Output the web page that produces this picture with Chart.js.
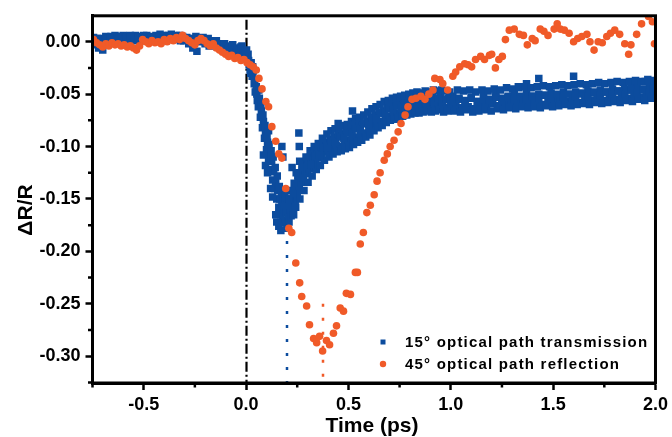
<!DOCTYPE html>
<html>
<head>
<meta charset="utf-8">
<script src="https://cdn.jsdelivr.net/npm/chart.js@4.4.1/dist/chart.umd.min.js"></script>
<style>
  html, body { margin: 0; padding: 0; background: #fff; }
  canvas { display: block; }
</style>
</head>
<body>
<canvas id="chart" width="672" height="437"></canvas>
<script>
// 15° optical path, transmission: delay (ps) and ΔR/R
const blueTime = [
  -0.75,-0.74,-0.73,-0.72,-0.71,-0.70,-0.69,-0.68,-0.67,-0.66,
  -0.65,-0.64,-0.63,-0.62,-0.61,-0.60,-0.59,-0.58,-0.57,-0.56,
  -0.55,-0.54,-0.53,-0.52,-0.51,-0.50,-0.49,-0.48,-0.47,-0.46,
  -0.45,-0.44,-0.43,-0.42,-0.41,-0.40,-0.39,-0.38,-0.37,-0.36,
  -0.35,-0.34,-0.33,-0.32,-0.31,-0.30,-0.29,-0.28,-0.27,-0.26,
  -0.25,-0.24,-0.23,-0.22,-0.21,-0.20,-0.19,-0.18,-0.17,-0.16,
  -0.15,-0.14,-0.13,-0.12,-0.11,-0.10,-0.09,-0.08,-0.07,-0.06,
  -0.05,-0.04,-0.03,-0.02,-0.01,0.000,0.005,0.010,0.015,0.020,
  0.025,0.030,0.035,0.040,0.045,0.050,0.055,0.060,0.065,0.070,
  0.075,0.080,0.085,0.090,0.095,0.100,0.105,0.110,0.115,0.120,
  0.125,0.130,0.135,0.140,0.145,0.150,0.155,0.160,0.165,0.170,
  0.175,0.180,0.185,0.190,0.195,0.200,0.205,0.210,0.215,0.220,
  0.225,0.230,0.235,0.240,0.245,0.250,0.255,0.260,0.265,0.270,
  0.275,0.280,0.285,0.290,0.295,0.300,0.305,0.310,0.315,0.320,
  0.325,0.330,0.335,0.340,0.345,0.350,0.355,0.360,0.365,0.370,
  0.375,0.380,0.390,0.400,0.410,0.420,0.430,0.440,0.450,0.460,
  0.470,0.480,0.490,0.500,0.510,0.520,0.530,0.540,0.550,0.560,
  0.570,0.580,0.590,0.600,0.610,0.620,0.630,0.640,0.650,0.660,
  0.670,0.680,0.690,0.700,0.710,0.720,0.730,0.740,0.750,0.760,
  0.770,0.780,0.790,0.800,0.810,0.820,0.830,0.840,0.850,0.860,
  0.870,0.880,0.890,0.900,0.910,0.920,0.930,0.940,0.950,0.960,
  0.970,0.980,0.990,1.000,1.010,1.025,1.040,1.055,1.070,1.085,
  1.100,1.115,1.130,1.145,1.160,1.175,1.190,1.205,1.220,1.235,
  1.250,1.265,1.280,1.295,1.310,1.325,1.340,1.355,1.370,1.385,
  1.400,1.415,1.430,1.445,1.460,1.475,1.490,1.505,1.520,1.535,
  1.550,1.565,1.580,1.595,1.610,1.625,1.640,1.655,1.670,1.685,
  1.700,1.715,1.730,1.745,1.760,1.775,1.790,1.805,1.820,1.835,
  1.850,1.865,1.880,1.895,1.910,1.925,1.940,1.955,1.970,1.985,
  2.000,0.175,0.180,0.225,0.258,0.260,0.262,0.270,0.450,0.520,
  1.330,1.370,1.430,1.600,1.880,1.950,
  -0.745,-0.725,-0.705,-0.685,-0.665,-0.645,-0.625,-0.605,-0.585,-0.565,
  -0.545,-0.525,-0.505,-0.485,-0.465,-0.445,-0.425,-0.405,-0.385,-0.365,
  -0.345,-0.325,-0.305,-0.285,-0.265,-0.245,-0.225,-0.205,-0.185,-0.165,
  -0.145,-0.125,-0.105,-0.085,-0.065,-0.045,-0.025,-0.005,
  0.0025,0.0125,0.0225,0.0325,0.0425,0.0525,0.0625,0.0725,0.0825,0.0925,
  0.1025,0.1125,0.1225,0.1325,0.1425,0.1525,0.1625,0.1725,0.1825,0.1925,
  0.2025,0.2125,0.2225,0.2325,0.2425,
  0.253,0.263,0.273,0.283,0.293,0.303,0.313,0.323,0.333,0.343,
  0.353,0.363,0.373,0.383,0.395,0.405,0.415,0.425,0.435,0.445,
  0.455,0.465,0.475,0.485,0.495,0.505,0.515,0.525,0.535,0.545,
  0.555,0.565,0.575,0.585,0.595,0.605,0.615,0.625,0.635,0.645,
  0.655,0.665,0.675,0.685,0.695,0.705,0.715,0.725,0.735,0.745,
  0.755,0.765,0.775,0.785,0.795,0.805,0.815,0.825,0.835,0.845,
  0.855,0.865,0.875,0.885,0.895,0.905,0.915,0.925,0.935,0.945,
  0.955,0.965,0.975,0.985,0.995,
  1.0175,1.0325,1.0475,1.0625,1.0775,1.0925,1.1075,1.1225,1.1375,1.1525,
  1.1675,1.1825,1.1975,1.2125,1.2275,1.2425,1.2575,1.2725,1.2875,1.3025,
  1.3175,1.3325,1.3475,1.3625,1.3775,1.3925,1.4075,1.4225,1.4375,1.4525,
  1.4675,1.4825,1.4975,1.5125,1.5275,1.5425,1.5575,1.5725,1.5875,1.6025,
  1.6175,1.6325,1.6475,1.6625,1.6775,1.6925,1.7075,1.7225,1.7375,1.7525,
  1.7675,1.7825,1.7975,1.8125,1.8275,1.8425,1.8575,1.8725,1.8875,1.9025,
  1.9175,1.9325,1.9475,1.9625,1.9775,1.9925,
  0.258,0.278,0.298,0.318,0.338,0.358,0.378,0.398,0.418,0.438,
  0.458,0.478,0.498,0.518,0.538,0.558,0.578,0.598,0.618,0.638,
  0.658,0.678,0.698,0.718,0.738,0.758,0.778,0.798,0.818,0.838,
  0.858,0.878,0.898,0.918,0.938,0.958,0.978,0.998,
  1.01,1.04,1.07,1.10,1.13,1.16,1.19,1.22,1.25,1.28,
  1.31,1.34,1.37,1.40,1.43,1.46,1.49,1.52,1.55,1.58,
  1.61,1.64,1.67,1.70,1.73,1.76,1.79,1.82,1.85,1.88,
  1.91,1.94,1.97,1.99,
  0.085,0.095,0.105,0.110,0.120,0.130,0.145,0.150,0.160,0.170,
  0.190,0.210,0.230,0.235,0.245
];
const blueDR = [
  0.002,-0.003,0.001,-0.006,0.003,-0.008,0.002,0.004,0.001,0.005,
  0.002,0.006,0.001,0.004,0.003,0.006,0.002,0.005,0.000,0.004,
  0.002,0.006,0.003,0.005,0.001,0.006,0.003,0.004,0.001,0.005,
  0.003,0.006,0.002,0.007,0.003,0.005,0.001,0.006,0.003,0.005,
  0.002,0.006,0.004,0.001,0.005,0.002,0.004,-0.002,0.003,-0.006,
  0.002,-0.009,0.003,0.000,0.004,-0.002,0.002,-0.004,0.001,-0.003,
  0.000,-0.005,-0.002,-0.006,-0.003,-0.007,-0.004,-0.009,-0.005,-0.010,
  -0.006,-0.011,-0.008,-0.004,-0.012,-0.009,-0.016,-0.012,-0.022,-0.027,
  -0.020,-0.033,-0.028,-0.040,-0.048,-0.043,-0.056,-0.062,-0.054,-0.072,
  -0.066,-0.082,-0.076,-0.092,-0.086,-0.103,-0.096,-0.112,-0.106,-0.122,
  -0.114,-0.132,-0.124,-0.140,-0.133,-0.150,-0.142,-0.158,-0.150,-0.165,
  -0.155,-0.170,-0.160,-0.173,-0.163,-0.178,-0.168,-0.172,-0.160,-0.166,
  -0.152,-0.158,-0.146,-0.152,-0.140,-0.146,-0.133,-0.139,-0.127,-0.134,
  -0.122,-0.130,-0.118,-0.126,-0.116,-0.124,-0.113,-0.121,-0.110,-0.118,
  -0.108,-0.116,-0.106,-0.113,-0.103,-0.111,-0.101,-0.109,-0.099,-0.107,
  -0.098,-0.105,-0.096,-0.104,-0.093,-0.101,-0.091,-0.099,-0.089,-0.100,
  -0.088,-0.096,-0.085,-0.094,-0.084,-0.092,-0.082,-0.091,-0.080,-0.088,
  -0.078,-0.087,-0.076,-0.084,-0.072,-0.080,-0.070,-0.078,-0.068,-0.076,
  -0.066,-0.074,-0.064,-0.071,-0.062,-0.070,-0.061,-0.068,-0.060,-0.067,
  -0.058,-0.066,-0.057,-0.065,-0.056,-0.064,-0.055,-0.063,-0.056,-0.062,
  -0.054,-0.063,-0.055,-0.061,-0.053,-0.064,-0.056,-0.060,-0.052,-0.062,
  -0.055,-0.063,-0.054,-0.060,-0.052,-0.061,-0.054,-0.063,-0.056,-0.062,
  -0.053,-0.064,-0.057,-0.060,-0.052,-0.062,-0.055,-0.059,-0.051,-0.061,
  -0.054,-0.060,-0.052,-0.058,-0.050,-0.060,-0.053,-0.058,-0.049,-0.059,
  -0.052,-0.057,-0.050,-0.060,-0.051,-0.057,-0.049,-0.058,-0.051,-0.056,
  -0.048,-0.057,-0.050,-0.055,-0.048,-0.058,-0.050,-0.055,-0.047,-0.056,
  -0.049,-0.054,-0.046,-0.056,-0.048,-0.053,-0.045,-0.055,-0.047,-0.053,
  -0.045,-0.054,-0.046,-0.051,-0.044,-0.053,-0.045,-0.050,-0.043,-0.051,
  -0.044,-0.100,-0.110,-0.120,-0.087,-0.100,-0.114,-0.130,-0.078,-0.066,
  -0.043,-0.040,-0.035,-0.033,-0.040,-0.038,
  0.004,0.003,-0.002,0.005,0.003,0.002,0.005,0.001,0.004,0.006,
  0.001,0.004,0.002,0.006,0.003,0.001,0.004,0.006,0.003,0.007,
  0.004,0.006,0.001,0.003,0.001,0.005,0.002,0.001,0.003,-0.001,
  0.001,-0.004,-0.002,-0.006,-0.003,-0.008,-0.005,-0.010,
  -0.008,-0.018,-0.030,-0.024,-0.036,-0.050,-0.046,-0.060,-0.070,-0.080,
  -0.090,-0.098,-0.104,-0.110,-0.120,-0.128,-0.138,-0.145,-0.150,-0.150,
  -0.156,-0.150,-0.142,-0.165,-0.158,
  -0.128,-0.150,-0.120,-0.142,-0.110,-0.134,-0.104,-0.128,-0.100,-0.122,
  -0.097,-0.118,-0.092,-0.113,-0.088,-0.110,-0.085,-0.107,-0.083,-0.105,
  -0.082,-0.104,-0.080,-0.102,-0.079,-0.101,-0.076,-0.098,-0.073,-0.096,
  -0.072,-0.094,-0.070,-0.091,-0.067,-0.089,-0.064,-0.085,-0.062,-0.082,
  -0.060,-0.080,-0.057,-0.077,-0.056,-0.075,-0.054,-0.074,-0.053,-0.073,
  -0.052,-0.071,-0.051,-0.070,-0.050,-0.069,-0.049,-0.068,-0.048,-0.068,
  -0.049,-0.067,-0.047,-0.066,-0.048,-0.067,-0.046,-0.066,-0.047,-0.065,
  -0.046,-0.067,-0.047,-0.066,-0.048,
  -0.066,-0.046,-0.067,-0.047,-0.065,-0.046,-0.067,-0.048,-0.066,-0.046,
  -0.065,-0.047,-0.066,-0.045,-0.064,-0.046,-0.065,-0.044,-0.063,-0.045,
  -0.064,-0.044,-0.062,-0.043,-0.063,-0.044,-0.062,-0.043,-0.063,-0.042,
  -0.061,-0.043,-0.062,-0.042,-0.061,-0.041,-0.060,-0.042,-0.061,-0.041,
  -0.060,-0.040,-0.059,-0.041,-0.060,-0.040,-0.058,-0.039,-0.059,-0.040,
  -0.058,-0.039,-0.057,-0.038,-0.058,-0.039,-0.056,-0.038,-0.057,-0.037,
  -0.055,-0.038,-0.056,-0.036,-0.054,-0.037,
  -0.134,-0.130,-0.119,-0.117,-0.109,-0.108,-0.101,-0.101,-0.095,-0.096,
  -0.091,-0.092,-0.087,-0.088,-0.083,-0.084,-0.078,-0.079,-0.073,-0.073,
  -0.068,-0.068,-0.063,-0.065,-0.061,-0.063,-0.059,-0.061,-0.057,-0.059,
  -0.056,-0.058,-0.055,-0.057,-0.054,-0.057,-0.055,-0.057,
  -0.057,-0.055,-0.058,-0.054,-0.057,-0.055,-0.056,-0.053,-0.056,-0.053,
  -0.055,-0.052,-0.055,-0.052,-0.054,-0.051,-0.054,-0.050,-0.053,-0.050,
  -0.052,-0.049,-0.052,-0.048,-0.051,-0.048,-0.050,-0.047,-0.050,-0.046,
  -0.049,-0.046,-0.048,-0.045,
  -0.108,-0.118,-0.125,-0.085,-0.140,-0.148,-0.165,-0.172,-0.176,-0.180,
  -0.145,-0.150,-0.145,-0.135,-0.125
];

// 45° optical path, reflection: delay (ps) and ΔR/R
const orangeTime = [
  -0.745,-0.730,-0.715,-0.700,-0.685,-0.670,-0.655,-0.640,-0.625,-0.610,
  -0.595,-0.580,-0.565,-0.550,-0.535,-0.520,-0.505,-0.490,-0.475,-0.460,
  -0.445,-0.430,-0.415,-0.400,-0.385,-0.370,-0.355,-0.340,-0.325,-0.310,
  -0.295,-0.280,-0.265,-0.250,-0.235,-0.220,-0.205,-0.190,-0.175,-0.160,
  -0.145,-0.130,-0.115,-0.100,-0.085,-0.070,-0.055,-0.040,-0.025,-0.010,
  0.005,0.020,0.035,0.050,0.063,0.078,0.097,0.110,0.126,0.145,
  0.160,0.175,0.194,0.209,0.223,0.243,0.262,0.272,0.296,0.310,
  0.330,0.345,0.359,0.374,0.393,0.408,0.427,0.442,0.460,0.476,
  0.490,0.510,0.534,0.544,0.558,0.573,0.590,0.607,0.626,0.640,
  0.655,0.675,0.690,0.704,0.723,0.743,0.757,0.777,0.791,0.811,
  0.830,0.854,0.874,0.893,0.913,0.922,0.947,0.961,0.985,1.010,
  1.024,1.044,1.068,1.085,1.102,1.121,1.146,1.165,1.189,1.200,
  1.218,1.235,1.252,1.267,1.286,1.310,1.335,1.355,1.374,1.398,
  1.412,1.437,1.455,1.475,1.505,1.520,1.535,1.555,1.578,1.600,
  1.620,1.640,1.665,1.680,1.700,1.720,1.740,1.762,1.780,1.801,
  1.825,1.850,1.869,1.880,1.908,1.932,1.966,1.985,1.995
];
const orangeDR = [
  0.002,-0.001,-0.003,-0.005,-0.002,-0.004,-0.001,-0.003,-0.002,-0.004,
  -0.003,-0.005,-0.004,-0.006,-0.008,-0.004,0.002,0.000,-0.002,0.001,
  -0.001,0.000,-0.002,0.002,0.000,0.003,0.001,0.004,0.002,0.006,
  0.003,0.001,-0.001,-0.003,0.001,0.003,0.001,-0.002,-0.004,-0.002,
  -0.006,-0.008,-0.010,-0.012,-0.014,-0.013,-0.016,-0.015,-0.018,-0.017,
  -0.020,-0.022,-0.024,-0.027,-0.035,-0.045,-0.057,-0.062,-0.081,-0.095,
  -0.107,-0.111,-0.140,-0.178,-0.182,-0.211,-0.230,-0.243,-0.252,-0.270,
  -0.283,-0.287,-0.281,-0.295,-0.285,-0.289,-0.278,-0.271,-0.254,-0.257,
  -0.240,-0.241,-0.220,-0.220,-0.193,-0.182,-0.163,-0.156,-0.146,-0.133,
  -0.125,-0.113,-0.107,-0.100,-0.094,-0.086,-0.078,-0.070,-0.062,-0.055,
  -0.054,-0.052,-0.055,-0.050,-0.046,-0.035,-0.036,-0.040,-0.046,-0.033,
  -0.029,-0.024,-0.021,-0.022,-0.024,-0.017,-0.014,-0.017,-0.013,-0.012,
  -0.025,-0.017,-0.014,0.002,0.011,0.012,0.007,0.006,-0.003,0.003,
  0.001,0.012,0.010,0.006,0.012,0.017,0.012,0.011,0.008,0.000,
  0.003,0.005,0.007,0.000,-0.008,0.000,-0.001,0.005,0.008,0.011,
  0.007,-0.002,-0.012,-0.003,0.007,0.017,0.024,0.019,-0.002
];

const seriesNames = ['15° optical path transmission', '45° optical path reflection'];
const seriesColors = ['#0c4c9e', '#f05a28'];
// time zero and the two signal minima (ps), with the ΔR/R where each marker starts
const zeroDelay = 0;
const peakTimes = [0.2, 0.375];
const peakMarkerTop = [-0.19, -0.25];
const xTicks = [-0.5, 0.0, 0.5, 1.0, 1.5, 2.0];
const yTicks = [0.00, -0.05, -0.10, -0.15, -0.20, -0.25, -0.30];
const xMinor = [-0.75, -0.25, 0.25, 0.75, 1.25, 1.75];
const yMinor = [-0.025, -0.075, -0.125, -0.175, -0.225, -0.275, -0.325];

const toPoints = (t, v) => t.map((tt, i) => ({ x: tt, y: v[i] }));

const FONT = '"Liberation Sans", Arial, sans-serif';

const decor = {
  id: 'decor',
  beforeDatasetsDraw(chart) {
    const { ctx, chartArea: a, scales: { x, y } } = chart;
    ctx.save();
    // dash-dot line at zero delay
    ctx.strokeStyle = '#000';
    ctx.lineWidth = 2.2;
    ctx.setLineDash([10, 3, 2, 3]);
    const x0 = Math.round(x.getPixelForValue(zeroDelay)) + 0.5;
    ctx.beginPath();
    ctx.moveTo(x0, a.top + 4);
    ctx.lineTo(x0, a.bottom);
    ctx.stroke();
    // dotted lines at each minimum
    ctx.lineWidth = 2.5;
    ctx.setLineDash([3, 11]);
    peakTimes.forEach((t, i) => {
      const px = Math.round(x.getPixelForValue(t));
      ctx.strokeStyle = seriesColors[i];
      ctx.beginPath();
      ctx.moveTo(px, y.getPixelForValue(peakMarkerTop[i]));
      ctx.lineTo(px, a.bottom);
      ctx.stroke();
    });
    ctx.restore();
  },
  afterDraw(chart) {
    const { ctx, chartArea: a, scales: { x, y } } = chart;
    ctx.save();
    ctx.setLineDash([]);
    ctx.strokeStyle = '#000';
    // frame
    ctx.lineWidth = 3;
    ctx.strokeRect(a.left, a.top, a.right - a.left, a.bottom - a.top);
    // minor ticks
    ctx.lineWidth = 2.5;
    ctx.beginPath();
    xMinor.forEach(v => {
      const px = x.getPixelForValue(v);
      ctx.moveTo(px, a.bottom);
      ctx.lineTo(px, a.bottom + 4.5);
    });
    yMinor.forEach(v => {
      const py = y.getPixelForValue(v);
      ctx.moveTo(a.left, py);
      ctx.lineTo(a.left - 4.5, py);
    });
    ctx.stroke();

    // axis titles
    ctx.fillStyle = '#000';
    ctx.font = 'bold 21px ' + FONT;
    ctx.textAlign = 'center';
    ctx.textBaseline = 'middle';
    ctx.fillText('Time (ps)', 372, 426);
    ctx.save();
    ctx.translate(26, 210);
    ctx.rotate(-Math.PI / 2);
    ctx.fillText('ΔR/R', 0, 0);
    ctx.restore();

    // legend
    const lx = 383, ly = [342, 364];
    ctx.fillStyle = seriesColors[0];
    ctx.fillRect(lx - 2.5, ly[0] - 2.5, 5, 5);
    ctx.fillStyle = seriesColors[1];
    ctx.beginPath();
    ctx.arc(lx, ly[1], 3.2, 0, Math.PI * 2);
    ctx.fill();
    ctx.fillStyle = '#000';
    ctx.font = 'bold 15px ' + FONT;
    ctx.textAlign = 'left';
    ctx.textBaseline = 'middle';
    ctx.letterSpacing = '1.2px';
    seriesNames.forEach((n, i) => ctx.fillText(n, 405, ly[i] + 1));
    ctx.restore();
  }
};

new Chart(document.getElementById('chart'), {
  type: 'scatter',
  data: {
    datasets: [
      {
        label: seriesNames[0],
        data: toPoints(blueTime, blueDR),
        pointStyle: 'rect',
        pointRadius: 5.3,
        pointBorderWidth: 0,
        backgroundColor: seriesColors[0],
        borderColor: seriesColors[0],
        order: 1
      },
      {
        label: seriesNames[1],
        data: toPoints(orangeTime, orangeDR),
        pointStyle: 'circle',
        pointRadius: 3.8,
        pointBorderWidth: 0,
        backgroundColor: seriesColors[1],
        borderColor: seriesColors[1],
        order: 0
      }
    ]
  },
  options: {
    responsive: false,
    animation: false,
    devicePixelRatio: 1,
    layout: { padding: { left: 0, right: 14, top: 14, bottom: 0 } },
    plugins: { legend: { display: false }, tooltip: { enabled: false } },
    scales: {
      x: {
        type: 'linear',
        min: -0.75,
        max: 2.0,
        afterFit: s => { s.height = 54; },
        afterBuildTicks: s => { s.ticks = xTicks.map(v => ({ value: v })); },
        border: { display: true, color: '#000', width: 3 },
        grid: { display: true, drawOnChartArea: false, drawTicks: true, tickLength: 7, tickWidth: 2.5, tickColor: '#000' },
        ticks: {
          color: '#000',
          padding: 4,
          maxRotation: 0,
          font: { family: FONT, size: 18, weight: 'bold' },
          callback: v => Number(v).toFixed(1)
        }
      },
      y: {
        type: 'linear',
        min: -0.3255,
        max: 0.0247,
        afterFit: s => { s.width = 92.5; },
        afterBuildTicks: s => { s.ticks = yTicks.map(v => ({ value: v })); },
        border: { display: true, color: '#000', width: 3 },
        grid: { display: true, drawOnChartArea: false, drawTicks: true, tickLength: 7, tickWidth: 2.5, tickColor: '#000' },
        ticks: {
          color: '#000',
          padding: 5,
          font: { family: FONT, size: 18, weight: 'bold' },
          callback: v => Number(v).toFixed(2)
        }
      }
    }
  },
  plugins: [decor]
});
</script>
</body>
</html>
